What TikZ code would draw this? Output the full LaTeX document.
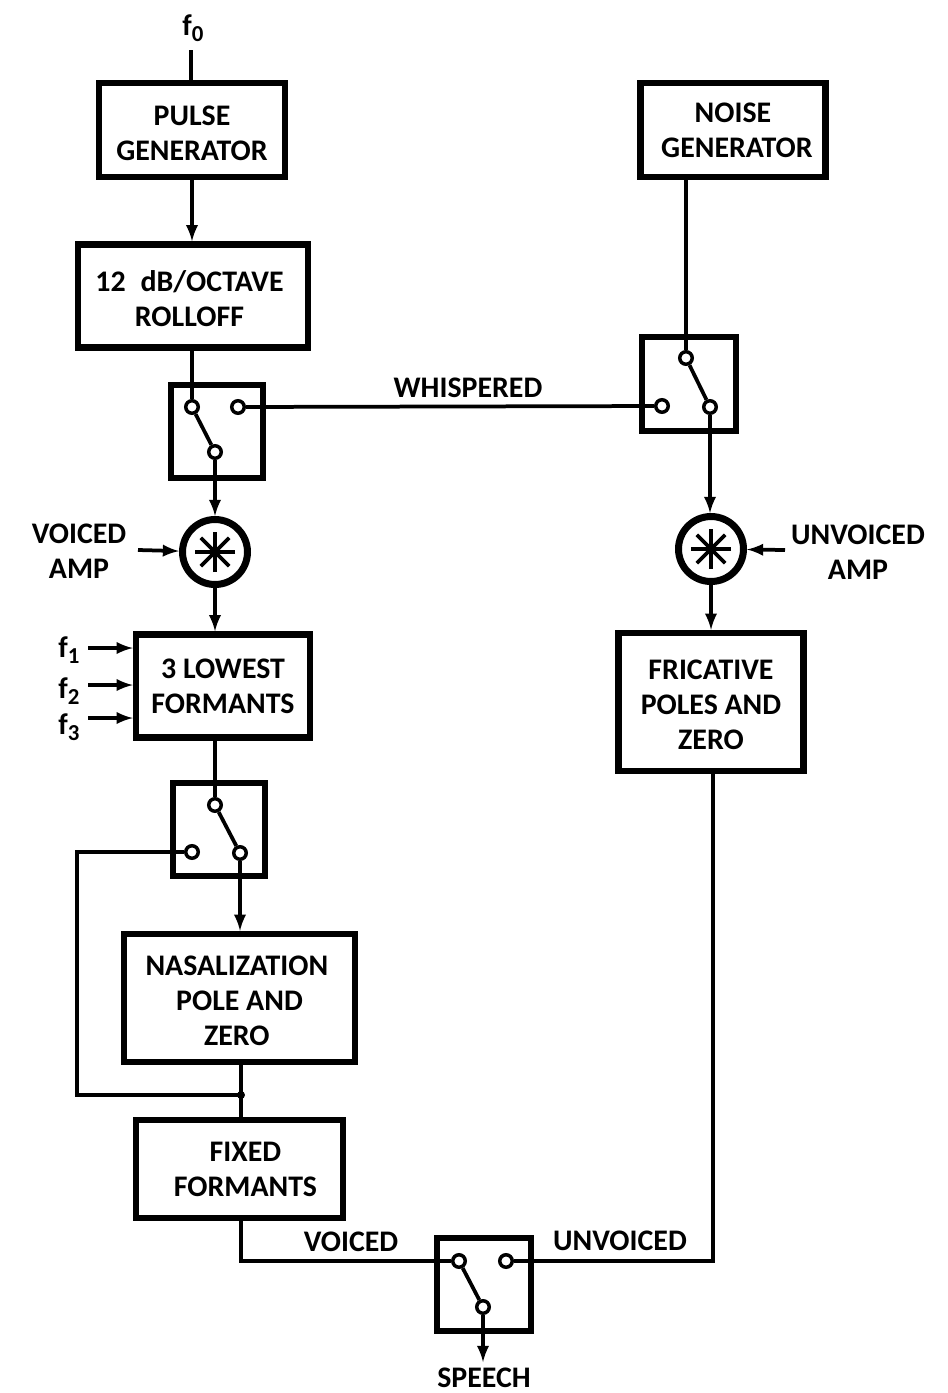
\documentclass[tikz,border=0pt]{standalone}
\usepackage{fontspec}
\setmainfont{Carlito}
\newcommand{\fsub}[1]{f{\fontsize{13}{13}\selectfont\raisebox{-3.5pt}{#1}}}
\newcommand{\lift}[1][15pt]{\rule{0pt}{#1}}
\tikzset{
  boxa/.style={draw,line width=1.3mm,align=center,inner sep=0pt,
    font=\fontsize{17}{20}\selectfont\bfseries},
  label/.style={align=center,inner sep=0pt,font=\fontsize{17}{20}\selectfont\bfseries},
  contact/.style={circle,draw,line width=0.7mm,minimum size=0.25cm,inner sep=0pt},
  mult/.style={circle,draw,line width=1.4mm,minimum size=1.3cm,inner sep=0pt},
  wire/.style={line width=0.75mm}
}
\begin{document}
\begin{tikzpicture}[x=0.02cm,y=-0.02cm]
  \useasboundingbox (0,0) rectangle (947,1393);
  % boxes
  \node[boxa,minimum width=3.72cm,minimum height=1.88cm] (pulse) at (192,130) {\lift PULSE\\GENERATOR};
  \node[boxa,minimum width=4.6cm,minimum height=2.06cm] (rolloff) at (193,296) {\lift 12\,\,\,dB/OCTAVE\hspace*{4pt}\\ROLLOFF\hspace*{4pt}};
  \node[boxa,minimum width=3.7cm,minimum height=1.88cm] (noise) at (733,130) {NOISE\\\hspace*{4.5pt}GENERATOR};
  \node[boxa,minimum width=3.48cm,minimum height=2.06cm] (lowest) at (223,686) {3 LOWEST\\FORMANTS};
  \node[boxa,minimum width=3.7cm,minimum height=2.76cm] (fricative) at (711,702) {\lift[14pt]FRICATIVE\\POLES AND\\ZERO};
  \node[boxa,minimum width=4.62cm,minimum height=2.56cm] (nasal) at (239.5,998) {\lift[14pt]NASALIZATION\hspace*{3pt}\\POLE AND\hspace*{3pt}\\ZERO\hspace*{3pt}};
  \node[boxa,minimum width=4.14cm,minimum height=1.96cm] (fixed) at (239.5,1169) {\hspace*{6.8pt}FIXED\\\hspace*{6.8pt}FORMANTS};
  % switch boxes
  \node[boxa,minimum width=1.84cm,minimum height=1.86cm] (swa) at (217,431.5) {};
  \node[boxa,minimum width=1.88cm,minimum height=1.88cm] (swb) at (689,384) {};
  \node[boxa,minimum width=1.84cm,minimum height=1.86cm] (swc) at (219,829.5) {};
  \node[boxa,minimum width=1.88cm,minimum height=1.86cm] (swd) at (484,1284.5) {};
  % contacts
  \node[contact] (a1) at (192,407) {};
  \node[contact] (a2) at (238,407) {};
  \node[contact] (a3) at (215,452) {};
  \node[contact] (b1) at (686,358) {};
  \node[contact] (b2) at (662,406) {};
  \node[contact] (b3) at (710,407) {};
  \node[contact] (c1) at (215,805) {};
  \node[contact] (c2) at (192,852) {};
  \node[contact] (c3) at (240,853) {};
  \node[contact] (d1) at (459,1261) {};
  \node[contact] (d2) at (506,1261) {};
  \node[contact] (d3) at (483,1307) {};
  % multipliers
  \node[mult] (ma) at (215,552) {};
  \node[mult] (mb) at (711,549) {};
  % texts
  \node[label] (ffo) at (193,28) {\fsub{0}};
  \node[label] (ffa) at (69,650) {\fsub{1}};
  \node[label] (ffb) at (69,691) {\fsub{2}};
  \node[label] (ffc) at (69,727) {\fsub{3}};
  \node[label] (vamp) at (79,551) {VOICED\\AMP};
  \node[label] (uamp) at (858,552) {UNVOICED\\AMP};
  \node[label] (whisp) at (468,388) {WHISPERED};
  \node[label] (voiced) at (351,1242) {VOICED};
  \node[label] (unvoiced) at (620,1241) {UNVOICED};
  \node[label] (speech) at (484,1378) {SPEECH};
  \coordinate (f0end) at (191,50);
  \coordinate (vin) at (138,550);
  \coordinate (uin) at (785,550);
  \coordinate (f1in) at (88,648);
  \coordinate (f2in) at (88,685);
  \coordinate (f3in) at (88,718);
  \coordinate (out) at (483,1362);
  \coordinate (jct) at (241,1095);
  \coordinate (back) at (77,852);
  % stars
  \foreach \n in {ma,mb}
    \foreach \a in {0,45,90,135}
      \draw[wire] (\n) ++(\a:20) -- ++(\a+180:40);
  % plain wires
  \begin{scope}[wire]
    \draw (f0end) -- (f0end |- pulse.north);
    \draw (rolloff.south -| a1) -- (a1);
    \draw (a1) -- (a3);
    \draw (a2) -- (b2);
    \draw (noise.south -| b1) -- (b1);
    \draw (b1) -- (b3);
    \draw (lowest.south -| c1) -- (c1);
    \draw (c1) -- (c3);
    \draw (c2) -- (back) |- (jct);
    \draw (nasal.south -| jct) -- (fixed.north -| jct);
    \draw (fixed.south -| jct) |- (d1);
    \draw (d1) -- (d3);
    \draw (fricative.south -| 713,0) |- (d2);
    \fill (jct) circle (4);
  \end{scope}
  % arrows
  \begin{scope}[wire,-latex]
    \draw (pulse.south) -- (pulse.south |- rolloff.north);
    \draw (a3) -- (ma);
    \draw (ma) -- (ma |- lowest.north);
    \draw (b3) -- (b3 |- mb.north);
    \draw (mb) -- (mb |- fricative.north);
    \draw (vin) -- (ma);
    \draw (uin) -- (mb);
    \draw (f1in) -- (f1in -| lowest.west);
    \draw (f2in) -- (f2in -| lowest.west);
    \draw (f3in) -- (f3in -| lowest.west);
    \draw (c3) -- (c3 |- nasal.north);
    \draw (d3) -- (out);
  \end{scope}
\end{tikzpicture}
\end{document}
